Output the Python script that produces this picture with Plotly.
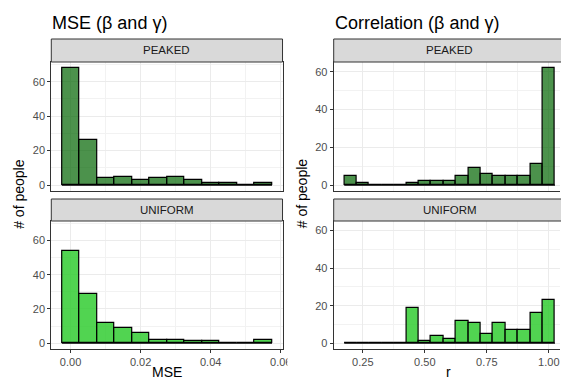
import plotly.graph_objects as go

# ---------------- data ----------------
mse_centers = [0.000, 0.005, 0.010, 0.015, 0.020, 0.025, 0.030, 0.035, 0.040, 0.045, 0.050, 0.055]
mse_peaked = [68, 26, 4, 5, 3, 4, 5, 3, 1, 1, 0, 1]
mse_uniform = [54, 29, 12, 9, 6, 2, 2, 1, 1, 0, 0, 2]
mse_binwidth = 0.005

r_centers = [0.20, 0.25, 0.30, 0.35, 0.40, 0.45, 0.50, 0.55, 0.60, 0.65, 0.70, 0.75, 0.80, 0.85, 0.90, 0.95, 1.00]
r_peaked = [5, 1, 0, 0, 0, 1, 2, 2, 2, 5, 9, 6, 5, 5, 5, 11, 62]
r_uniform = [0, 0, 0, 0, 0, 19, 1, 4, 2, 12, 11, 5, 11, 7, 7, 16, 23]
r_binwidth = 0.05

mse_xticks = [0.00, 0.02, 0.04, 0.06]
mse_xticktext = ["0.00", "0.02", "0.04", "0.06"]
r_xticks = [0.25, 0.50, 0.75, 1.00]
r_xticktext = ["0.25", "0.50", "0.75", "1.00"]
y_ticks = [0, 20, 40, 60]

strip_labels = ["PEAKED", "UNIFORM"]
titles = ["MSE (\u03b2 and \u03b3)", "Correlation (\u03b2 and \u03b3)"]

# page body has an 8px margin; work in window pixels and convert
OFF = 8
W, H = 569 - OFF, 381 - OFF
def px(x): return (x - OFF) / W
def py(y): return 1 - (y - OFF) / H

PEAKED_COL = "rgba(0,100,0,0.70)"
UNIFORM_COL = "rgba(50,205,50,0.85)"
FONT = "Liberation Sans, Arial, sans-serif"

fig = go.Figure()

panels = [
    ("x", "y", mse_centers, mse_peaked, mse_binwidth, PEAKED_COL),
    ("x3", "y3", mse_centers, mse_uniform, mse_binwidth, UNIFORM_COL),
    ("x2", "y2", r_centers, r_peaked, r_binwidth, PEAKED_COL),
    ("x4", "y4", r_centers, r_uniform, r_binwidth, UNIFORM_COL),
]
for xa, ya, cen, cnt, bw, col in panels:
    fig.add_trace(go.Bar(x=cen, y=cnt, width=[bw] * len(cen), xaxis=xa, yaxis=ya,
                         marker=dict(color=col, line=dict(color="black", width=1.2)),
                         showlegend=False, hoverinfo="skip"))
    lo = min(cen) - bw / 2
    hi = max(cen) + bw / 2
    fig.add_trace(go.Scatter(x=[lo, hi], y=[0, 0], mode="lines", xaxis=xa, yaxis=ya,
                             line=dict(color="black", width=1.2),
                             showlegend=False, hoverinfo="skip"))

L_X = [px(52), px(287)]
R_X = [px(339), 1.0]
TOP_Y = [py(191), py(62)]
BOT_Y = [py(349), py(221)]

grid = dict(showgrid=True, gridcolor="#EBEBEB", gridwidth=1, zeroline=False,
            showline=True, linecolor="#333333", linewidth=1,
            ticks="outside", ticklen=3, tickcolor="#333333", tickwidth=1,
            tickfont=dict(family=FONT, size=11, color="#4D4D4D"))
minor_x_mse = dict(showgrid=True, gridcolor="#F2F2F2", gridwidth=0.6, dtick=0.01, tick0=0, ticks="")
minor_x_r = dict(showgrid=True, gridcolor="#F2F2F2", gridwidth=0.6, dtick=0.125, tick0=0.125, ticks="")
minor_y = dict(showgrid=True, gridcolor="#F2F2F2", gridwidth=0.6, dtick=10, tick0=0, ticks="")

mse_range = [-0.0055, 0.0605]
r_range = [0.1325, 0.1325 + 230 / 252]
yl_range = [-3.4, 71.4]
yr_range = [-3.1, 65.1]

layout = dict(
    width=W, height=H, margin=dict(l=0, r=0, t=0, b=0),
    paper_bgcolor="white", plot_bgcolor="white", bargap=0,
    xaxis=dict(domain=L_X, anchor="y", range=mse_range, tickvals=mse_xticks,
               showticklabels=False, mirror=True, minor=minor_x_mse, **{**grid, "ticks": ""}),
    yaxis=dict(domain=TOP_Y, anchor="x", range=yl_range, tickvals=y_ticks,
               mirror=True, minor=minor_y, **grid),
    xaxis3=dict(domain=L_X, anchor="y3", range=mse_range, tickvals=mse_xticks,
                ticktext=mse_xticktext, mirror=True, minor=minor_x_mse, **grid),
    yaxis3=dict(domain=BOT_Y, anchor="x3", range=yl_range, tickvals=y_ticks,
                mirror=True, minor=minor_y, **grid),
    xaxis2=dict(domain=R_X, anchor="y2", range=r_range, tickvals=r_xticks,
                showticklabels=False, mirror=True, minor=minor_x_r, **{**grid, "ticks": ""}),
    yaxis2=dict(domain=TOP_Y, anchor="x2", range=yr_range, tickvals=y_ticks,
                mirror=False, minor=minor_y, **grid),
    xaxis4=dict(domain=R_X, anchor="y4", range=r_range, tickvals=r_xticks,
                ticktext=r_xticktext, mirror=True, minor=minor_x_r, **grid),
    yaxis4=dict(domain=BOT_Y, anchor="x4", range=yr_range, tickvals=y_ticks,
                mirror=False, minor=minor_y, **grid),
)
fig.update_layout(**layout)

shapes = []
annotations = []
strip_rows = [(39, 62, strip_labels[0]), (199, 221, strip_labels[1])]
for x0, x1, cx in [(52, 287, 169.5), (339, 600, 457)]:
    for y0, y1, lab in strip_rows:
        shapes.append(dict(type="rect", xref="paper", yref="paper",
                           x0=px(x0), x1=px(x1), y0=py(y1), y1=py(y0),
                           fillcolor="#D9D9D9", line=dict(color="#333333", width=1),
                           layer="above"))
        annotations.append(dict(text=lab, xref="paper", yref="paper",
                                x=px(cx), y=py((y0 + y1) / 2), showarrow=False,
                                xanchor="center", yanchor="middle",
                                font=dict(family=FONT, size=11.5, color="#1A1A1A")))

# clip of the "0.06" tick label by the neighbouring plot
shapes.append(dict(type="rect", xref="paper", yref="paper",
                   x0=px(292), x1=px(320), y0=py(370), y1=py(351),
                   fillcolor="white", line=dict(width=0), layer="above"))

annotations += [
    dict(text=titles[0], xref="paper", yref="paper", x=px(51), y=py(23),
         xanchor="left", yanchor="middle", showarrow=False,
         font=dict(family=FONT, size=18, color="black")),
    dict(text=titles[1], xref="paper", yref="paper", x=px(338), y=py(23),
         xanchor="left", yanchor="middle", showarrow=False,
         font=dict(family=FONT, size=18, color="black")),
    dict(text="# of people", xref="paper", yref="paper", x=px(19), y=py(194),
         xanchor="center", yanchor="middle", textangle=-90, showarrow=False,
         font=dict(family=FONT, size=14, color="black")),
    dict(text="# of people", xref="paper", yref="paper", x=px(307), y=py(194),
         xanchor="center", yanchor="middle", textangle=-90, showarrow=False,
         font=dict(family=FONT, size=14, color="black")),
    dict(text="MSE", xref="paper", yref="paper", x=px(169.5), y=py(372),
         xanchor="center", yanchor="middle", showarrow=False,
         font=dict(family=FONT, size=14, color="black")),
    dict(text="r", xref="paper", yref="paper", x=px(456), y=py(372),
         xanchor="center", yanchor="middle", showarrow=False,
         font=dict(family=FONT, size=14, color="black")),
]
fig.update_layout(shapes=shapes, annotations=annotations)

fig.write_html("out.html")
